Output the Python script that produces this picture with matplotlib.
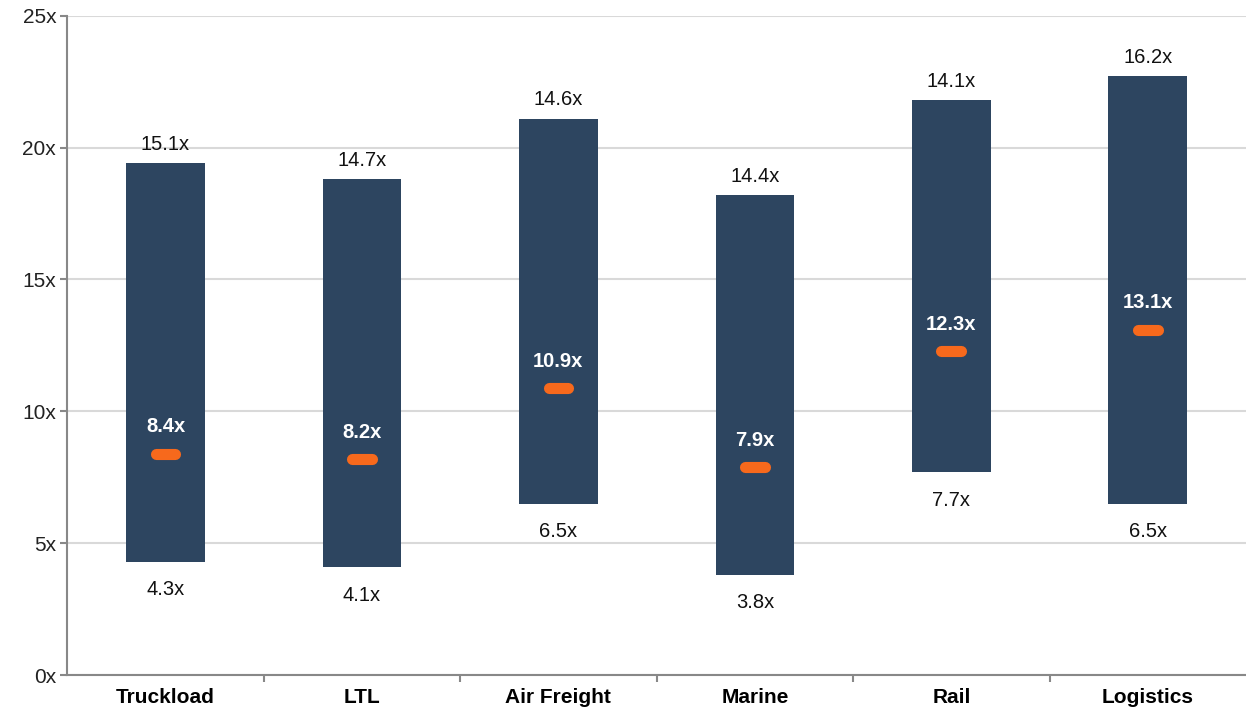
import matplotlib
matplotlib.use("Agg")
from matplotlib import pyplot as plt

categories = ["Truckload", "LTL", "Air Freight", "Marine", "Rail", "Logistics"]
lows = [4.3, 4.1, 6.5, 3.8, 7.7, 6.5]
highs = [15.1, 14.7, 14.6, 14.4, 14.1, 16.2]
medians = [8.4, 8.2, 10.9, 7.9, 12.3, 13.1]
y_ticks = [0, 5, 10, 15, 20, 25]

plt.rcParams['font.family'] = ['Liberation Sans', 'DejaVu Sans']

fig = plt.figure(figsize=(12.46, 7.13), dpi=100)
ax = fig.add_axes([0.054, 0.053, 0.946, 0.925])

x = list(range(len(categories)))
# bars stacked: low as base, high as height
ax.bar(x, highs, bottom=lows, width=0.4, color='#2d4560', zorder=3)

for i in x:
    top = lows[i] + highs[i]
    ax.text(i, top + 0.35, f"{highs[i]}x", ha='center', va='bottom', fontsize=14.5, color='#111111')
    ax.text(i, lows[i] - 0.7, f"{lows[i]}x", ha='center', va='top', fontsize=14.5, color='#111111')
    ax.hlines(medians[i], i - 0.05, i + 0.05, colors='#f7691c', lw=8, capstyle='round', zorder=4)
    ax.text(i, medians[i] + 0.65, f"{medians[i]}x", ha='center', va='bottom', fontsize=14.5,
            fontweight='bold', color='white', zorder=5)

ax.set_xlim(-0.5, len(categories) - 0.5)
ax.set_ylim(0, 25)
ax.set_yticks(y_ticks)
ax.set_yticklabels([f"{t}x" for t in y_ticks], fontsize=15, color='#222222')
ax.set_xticks(x)
ax.set_xticklabels(categories, fontsize=15, fontweight='bold')
ax.tick_params(axis='x', length=0, pad=9)
ax.set_xticks([i + 0.5 for i in x[:-1]], minor=True)
ax.tick_params(axis='x', which='minor', length=5, color='#888888', width=1.5)
ax.tick_params(axis='y', length=5, color='#888888', width=1.5, pad=3)

ax.grid(axis='y', color='#d9d9d9', lw=1.5, zorder=0)
for s in ['top', 'right']:
    ax.spines[s].set_visible(False)
ax.spines['left'].set_color('#888888')
ax.spines['bottom'].set_color('#888888')
ax.spines['left'].set_linewidth(1.5)
ax.spines['bottom'].set_linewidth(1.5)

plt.savefig("out.png", dpi=100)
